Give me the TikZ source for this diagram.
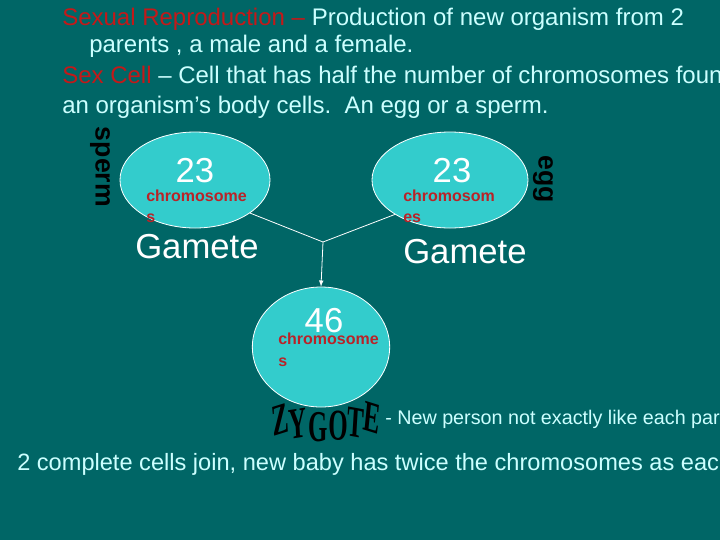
\documentclass[tikz,border=0pt]{standalone}
\usepackage{fontspec}
\setmainfont{Liberation Sans}
\newfontfamily\wordart{Liberation Serif}
\usetikzlibrary{arrows,shapes.geometric}
\definecolor{slidebg}{RGB}{0,102,102}
\definecolor{cellfill}{RGB}{51,204,204}
\definecolor{paletext}{RGB}{204,255,255}
\definecolor{termred}{RGB}{195,25,25}
\definecolor{chromred}{RGB}{185,35,40}
\tikzset{
  cell/.style={ellipse,draw=white,fill=cellfill,line width=0.6pt,inner sep=0pt},
  wire/.style={draw=white,line width=0.6pt},
  bodytext/.style={anchor=base west,inner sep=0pt,text=paletext,font=\fontsize{18}{21}\selectfont},
  count/.style={anchor=base,inner sep=0pt,text=white,font=\fontsize{26}{30}\selectfont},
  chrom/.style={anchor=base west,inner sep=0pt,text=chromred,font=\bfseries\fontsize{12}{14}\selectfont},
  gamete/.style={anchor=base west,inner sep=0pt,text=white,font=\fontsize{26}{30}\selectfont},
  sidetag/.style={inner sep=0pt,text=black,rotate=-90,font=\bfseries\fontsize{20}{22}\selectfont},
  zyletter/.style={inner sep=0pt,text=black,yscale=1.5,xscale=0.85,font=\wordart\bfseries\fontsize{22}{24}\selectfont}
}
\begin{document}
\begin{tikzpicture}[x=0.75pt,y=-0.75pt]
\fill[slidebg] (0,0) rectangle (720,540);
\useasboundingbox (0,0) rectangle (720,540);
\clip (0,0) rectangle (720,540);

% definitions at the top
\node[bodytext] (defsex) at (62,25) {\textcolor{termred}{Sexual Reproduction --} Production of new organism from 2};
\node[bodytext] (defsex2) at (89,52) {parents , a male and a female.};
\node[bodytext] (defcell) at (62,83) {\textcolor{termred}{Sex Cell} -- Cell that has half the number of chromosomes found in};
\node[bodytext] (defcell2) at (62,113) {an organism’s body cells.\ \ An egg or a sperm.};

% the two gametes
\node[cell,minimum width=112.5pt,minimum height=72pt] (spermcell) at (195,180) {};
\node[cell,minimum width=117pt,minimum height=72pt] (eggcell) at (450,180) {};
\node[count] (spermnum) at (195,182) {23};
\node[count] (eggnum) at (452,182) {23};
\node[chrom] (spermchr) at (146,201) {chromosome};
\node[chrom] (spermchr2) at (146,222) {s};
\node[chrom] (eggchr) at (403,201) {chromosom};
\node[chrom] (eggchr2) at (403,222) {es};
\node[gamete] (spermgam) at (135,258) {Gamete};
\node[gamete] (egggam) at (403,263) {Gamete};
\node[sidetag] (spermtag) at (100,167) {sperm};
\node[sidetag] (eggtag) at (543,179) {egg};

% zygote
\node[cell,minimum width=103pt,minimum height=90pt] (zygote) at (321,347) {};
\node[count] (zygnum) at (324,332) {46};
\node[chrom] (zygchr) at (278,344) {chromosome};
\node[chrom] (zygchr2) at (278,366) {s};
\foreach \ch/\x/\y/\r [count=\i] in {Z/280/420/10,Y/298/424/5,G/318/427/0,O/338/426/-2,T/356/423/-6,E/372/418/-10}
  \node[zyletter,rotate=\r] (zy\i) at (\x,\y) {\ch};

\coordinate (join) at (323,242);
\draw[wire] (spermcell.-31) -- (join) -- (eggcell.-148);
\draw[wire,-latex] (join) -- (zygote.north);

\node[bodytext,font=\fontsize{14.8}{17}\selectfont] (zygdef) at (385,424) {- New person not exactly like each parent};
\node[bodytext,font=\fontsize{17.7}{21}\selectfont] (summary) at (17,470) {2 complete cells join, new baby has twice the chromosomes as each parent};
\end{tikzpicture}
\end{document}
